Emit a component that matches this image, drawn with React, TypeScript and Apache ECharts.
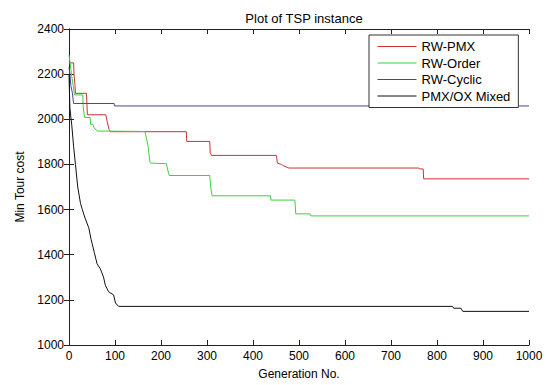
import React, { useEffect, useRef } from "react";
import * as echarts from "echarts";

const seriesNames = ["RW-PMX", "RW-Order", "RW-Cyclic", "PMX/OX Mixed"];
const xTicks = [0, 1000, 100];
const yTicks = [1000, 2400, 200];

const rwPmx: [number, number][] = [
  [1, 2250], [10, 2250], [11, 2200], [13, 2150], [14, 2115], [38, 2115], [40, 2020],
  [80, 2020], [83, 1990], [87, 1955], [90, 1945], [255, 1945], [256, 1902], [306, 1902],
  [307, 1850], [310, 1840], [451, 1840], [453, 1806], [462, 1800], [465, 1795], [478, 1784],
  [761, 1784], [762, 1780], [770, 1780], [771, 1736], [1000, 1736],
];

const rwOrder: [number, number][] = [
  [0, 2285], [3, 2240], [6, 2190], [9, 2150], [12, 2108], [30, 2108], [31, 2050],
  [34, 2008], [46, 2008], [47, 1978], [52, 1978], [55, 1960], [62, 1948], [165, 1946],
  [168, 1920], [172, 1880], [176, 1810], [178, 1806], [212, 1803], [214, 1780],
  [218, 1751], [306, 1751], [308, 1700], [311, 1661], [438, 1661], [439, 1642],
  [491, 1642], [493, 1581], [524, 1581], [526, 1572], [1000, 1572],
];

const rwCyclic: [number, number][] = [
  [0, 2230], [2, 2200], [4, 2150], [7, 2120], [10, 2070], [98, 2070], [99, 2059],
  [1000, 2059],
];

const pmxOxMixed: [number, number][] = [
  [0, 2200], [1, 2120], [2, 2050], [4, 2010], [6, 1975], [10, 1880], [14, 1800],
  [19, 1700], [25, 1627], [29, 1600], [32, 1580], [35, 1562], [43, 1519], [48, 1468],
  [55, 1410], [61, 1360], [68, 1338], [75, 1301], [79, 1265], [86, 1236], [97, 1222],
  [101, 1186], [108, 1171], [834, 1171], [836, 1163], [852, 1163], [856, 1149],
  [1000, 1149],
];

const colors = ["#cc3333", "#3fcf3f", "#45459a", "#111111"];
const FONT = "'Liberation Sans', Arial, sans-serif";

export default function App() {
  const ref = useRef<HTMLDivElement>(null);
  useEffect(() => {
    if (!ref.current) return;
    const chart = echarts.init(ref.current, undefined, { renderer: "svg" });
    const axisCommon = {
      type: "value" as const,
      axisLine: { show: true, lineStyle: { color: "#222", width: 1 } },
      axisTick: { show: true, inside: true, length: 5, lineStyle: { color: "#222" } },
      splitLine: { show: false },
    };
    const datas = [rwPmx, rwOrder, rwCyclic, pmxOxMixed];
    const fmt = (v: number) => String(v);
    chart.setOption({
      animation: false,
      backgroundColor: "#ffffff",
      textStyle: { fontFamily: FONT },
      title: {
        text: "Plot of TSP instance",
        left: 299,
        top: 7,
        textAlign: "center",
        textStyle: { fontSize: 13, fontWeight: "normal", color: "#000", fontFamily: FONT },
      },
      grid: { left: 69, right: 18, top: 29, bottom: 34 },
      legend: {
        data: seriesNames,
        orient: "vertical",
        left: 369,
        top: 35,
        width: 153,
        padding: [5, 8, 5, 8],
        itemWidth: 39,
        itemHeight: 14,
        itemGap: 3.5,
        align: "left",
        backgroundColor: "#fff",
        borderColor: "#333",
        borderWidth: 1,
        borderRadius: 0,
        itemStyle: { opacity: 0 },
        lineStyle: { width: 1 },
        textStyle: { fontSize: 13, color: "#000", fontFamily: FONT, width: 98 },
      },
      xAxis: [
        {
          ...axisCommon,
          position: "bottom",
          min: xTicks[0],
          max: xTicks[1],
          interval: xTicks[2],
          name: "Generation No.",
          nameLocation: "middle",
          nameGap: 23,
          nameTextStyle: { fontSize: 12, color: "#000", fontFamily: FONT },
          axisLabel: { fontSize: 12, color: "#000", margin: 5, fontFamily: FONT, formatter: fmt },
        },
        {
          ...axisCommon,
          position: "top",
          min: xTicks[0],
          max: xTicks[1],
          interval: xTicks[2],
          axisLabel: { show: false },
        },
      ],
      yAxis: [
        {
          ...axisCommon,
          position: "left",
          min: yTicks[0],
          max: yTicks[1],
          interval: yTicks[2],
          name: "Min Tour cost",
          nameLocation: "middle",
          nameGap: 42,
          nameTextStyle: { fontSize: 12, color: "#000", fontFamily: FONT },
          axisLabel: { fontSize: 12, color: "#000", margin: 5, fontFamily: FONT, formatter: fmt },
        },
        {
          ...axisCommon,
          position: "right",
          min: yTicks[0],
          max: yTicks[1],
          interval: yTicks[2],
          axisLabel: { show: false },
        },
      ],
      series: seriesNames.map((name, i) => ({
        name,
        type: "line",
        xAxisIndex: 0,
        yAxisIndex: 0,
        data: datas[i],
        symbol: "none",
        showSymbol: false,
        color: colors[i],
        lineStyle: { color: colors[i], width: 1 },
        z: i === 3 ? 3 : 2 + i * 0.1,
      })),
    });
    return () => chart.dispose();
  }, []);
  return <div ref={ref} style={{ width: 547, height: 385, position: "absolute", left: 0, top: 0 }} />;
}
